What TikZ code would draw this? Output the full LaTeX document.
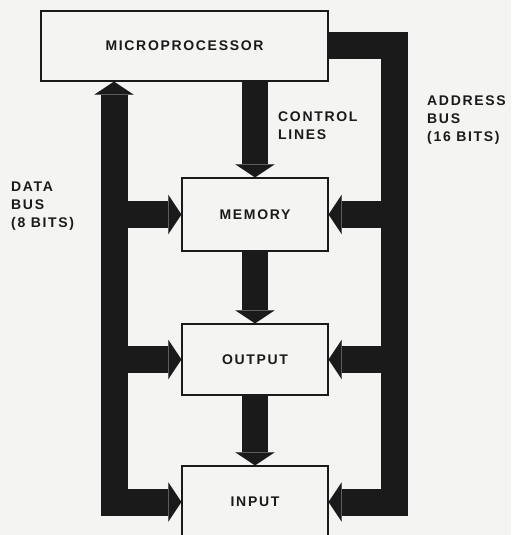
\documentclass[tikz,border=0pt]{standalone}
\usepackage{fontspec}
\setmainfont{Liberation Sans}[LetterSpace=12]
\usetikzlibrary{arrows.meta}
\definecolor{paper}{RGB}{244,244,242}
\definecolor{ink}{RGB}{26,26,26}
\begin{document}
\begin{tikzpicture}[x=1pt,y=-1pt,
  box/.style={draw=ink,line width=1.3pt,fill=paper,inner sep=0pt,
    minimum width=146pt,font=\fontsize{14}{17}\selectfont\bfseries,text=ink},
  bus/.style={draw=ink,line width=27pt},
  head/.style={-{Triangle[width=39pt,length=13pt,line width=0.01pt]}},
  heads/.style={{Triangle[width=39pt,length=13pt,line width=0.01pt]}-{Triangle[width=39pt,length=13pt,line width=0.01pt]}},
  lbl/.style={anchor=north west,inner sep=0pt,align=left,text=ink,
    font=\fontsize{14}{18}\selectfont\bfseries}]
\fill[paper] (0,0) rectangle (511,535);
\useasboundingbox (0,0) rectangle (511,535);
% boxes
\node[box,minimum width=287pt,minimum height=70pt] (mp) at (184.5,46) {MICROPROCESSOR};
\node[box,minimum height=73pt] (mem) at (255,214.5) {MEMORY};
\node[box,minimum height=71pt] (out) at (255,359.5) {OUTPUT};
\node[box,minimum height=72pt] (inp) at (255,502) {INPUT};
% bus centre lines
\coordinate (dl) at (114,0);
\coordinate (ar) at (394.5,0);
% data bus
\draw[bus,heads] (dl |- mp.south) -- (dl |- inp.west) -- (inp.west);
\draw[bus,head] (dl |- mem.west) -- (mem.west);
\draw[bus,head] (dl |- out.west) -- (out.west);
% address bus
\draw[bus,head] (mp.east) -- (ar |- mp.east) -- (ar |- inp.east) -- (inp.east);
\draw[bus,head] (ar |- mem.east) -- (mem.east);
\draw[bus,head] (ar |- out.east) -- (out.east);
% control lines
\draw[bus,line width=26pt,head] (mem.north |- mp.south) -- (mem.north);
\draw[bus,line width=26pt,head] (mem.south) -- (out.north);
\draw[bus,line width=26pt,head] (out.south) -- (inp.north);
% labels
\node[lbl] (ctl) at (278,112) {CONTROL\\LINES};
\node[lbl] (addr) at (427,96) {ADDRESS\\BUS\\(16 BITS)};
\node[lbl] (data) at (11,182) {DATA\\BUS\\(8 BITS)};
\end{tikzpicture}
\end{document}
